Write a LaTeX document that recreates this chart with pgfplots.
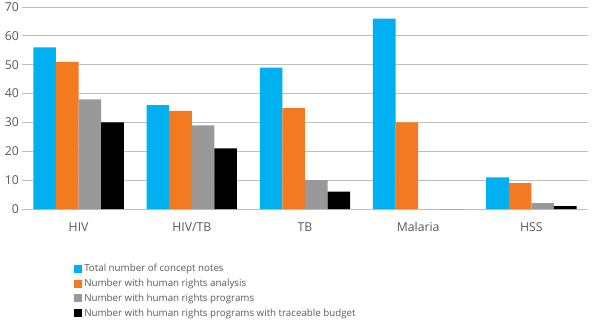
\documentclass[border=0pt]{standalone}
\usepackage{pgfplots}
\pgfplotsset{compat=1.18}
\usepackage{fontspec}
\setmainfont{Open Sans}
\definecolor{cblue}{HTML}{00B0F0}
\definecolor{corange}{HTML}{F37A21}
\definecolor{cgray}{HTML}{999999}
\definecolor{cblack}{HTML}{000000}
\definecolor{txt}{HTML}{595959}
\definecolor{gridc}{HTML}{BFBFBF}
\begin{document}
\begin{tikzpicture}
\begin{axis}[
  scale only axis,
  width=566bp, height=202bp,
  at={(0,0)}, anchor=south west,
  ybar=0pt, bar width=22.6bp,
  xmin=-0.5, xmax=4.5,
  ymin=0, ymax=70,
  ytick={0,10,...,70},
  xtick={0,1,2,3,4},
  xticklabels={HIV,HIV/TB,TB,Malaria,HSS},
  ymajorgrids=true, xmajorgrids=false,
  y grid style={draw=gridc, line width=1bp},
  axis line style={draw=none},
  major tick length=0pt,
  tick style={draw=none},
  /pgf/number format/assume math mode=true,
  ticklabel style={font=\fontsize{12.3}{14}\selectfont, text=txt},
  xticklabel style={yshift=-10bp},
  yticklabel style={xshift=0.5bp},
  legend style={at={(0.092,-0.262)}, anchor=north west, draw=none, fill=none,
    font=\fontsize{9.8}{12}\selectfont, text=txt, row sep=2bp,
    inner sep=0pt},
  legend cell align=left,
  legend image code/.code={\fill[#1] (0bp,-4bp) rectangle (8bp,4bp);},
  every axis plot/.append style={draw=none},
]
\addplot[fill=cblue] coordinates {(0,56) (1,36) (2,49) (3,66) (4,11)};
\addplot[fill=corange] coordinates {(0,51) (1,34) (2,35) (3,30) (4,9)};
\addplot[fill=cgray] coordinates {(0,38) (1,29) (2,10) (3,0) (4,2)};
\addplot[fill=cblack] coordinates {(0,30) (1,21) (2,6) (3,0) (4,1)};
\legend{Total number of concept notes, Number with human rights analysis, Number with human rights programs, Number with human rights programs with traceable budget}
\end{axis}
\pgfresetboundingbox
\useasboundingbox (-22bp,-117bp) rectangle (578bp,209bp);
\end{tikzpicture}
\end{document}
